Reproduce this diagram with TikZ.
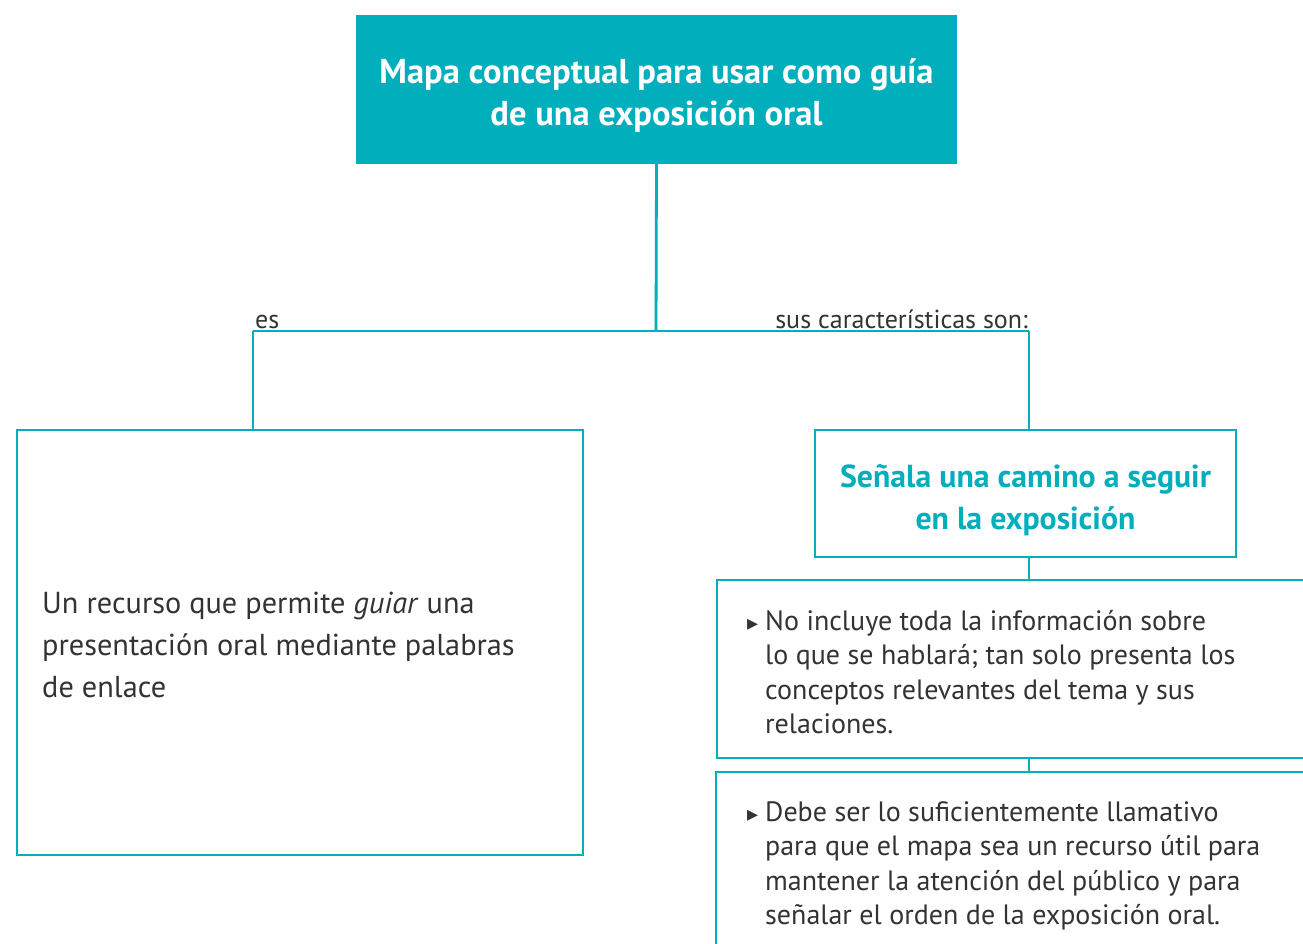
\documentclass[tikz,border=0pt]{standalone}
\usepackage{fontspec}
\setmainfont{PT Sans}
\newfontfamily\dejavu{DejaVu Sans}
\definecolor{teal1}{HTML}{00AEBC}
\definecolor{ink}{HTML}{333333}
\newcommand{\bul}{{\dejavu\fontsize{22}{22}\selectfont ▸}}
\begin{document}
\begin{tikzpicture}[x=1pt,y=-1pt,
  conn/.style={draw=teal1,line width=2.8pt},
  boxs/.style={draw=teal1,line width=2.8pt,fill=white,inner sep=0pt},
  titlebox/.style={fill=teal1,inner sep=0pt},
  titletext/.style={text=white,font=\bfseries\fontsize{34.5}{42}\selectfont,align=center,inner sep=0pt},
  subtitle/.style={text=teal1,font=\bfseries\fontsize{31.8}{42}\selectfont,align=center,inner sep=0pt},
  bodytext/.style={text=ink,font=\fontsize{30.3}{42}\selectfont,align=left,inner sep=0pt},
  itemtext/.style={text=ink,font=\fontsize{28}{34.5}\selectfont,align=left,inner sep=0pt},
  linklabel/.style={text=ink,font=\fontsize{26}{26}\selectfont,inner sep=0pt}]
\useasboundingbox (0,0) rectangle (1303,944);
\clip (0,0) rectangle (1303,944);
\fill[white] (0,0) rectangle (1303,944);
% top
\node[titlebox,minimum width=601pt,minimum height=149pt] (top) at (656.5,89.5) {};
\node[titletext] (toptext) at (656.5,95.5)
  {Mapa conceptual para usar como guía\\de una exposición oral};
% junction coordinates
\coordinate (j) at (656,331);
\coordinate (jl) at (253,331);
\coordinate (jr) at (1029,331);
% boxes
\node[boxs,minimum width=566pt,minimum height=425pt] (left) at (300,642.5) {};
\node[boxs,minimum width=421pt,minimum height=127pt] (rt) at (1025.5,493.5) {};
\node[subtitle] (rttext) at (1025.5,500) {Señala una camino a seguir\\en la exposición};
\node[boxs,minimum width=603pt,minimum height=178pt] (b2) at (1018.5,669) {};
\node[boxs,minimum width=604pt,minimum height=188pt] (b3) at (1018,866) {};
% connectors
\draw[conn] (top.south) -- (j);
\draw[conn] (jl) -- (jr);
\draw[conn] (jl) -- (jl |- left.north);
\draw[conn] (jr) -- (jr |- rt.north);
\draw[conn] (rt.south -| jr) -- (b2.north -| jr);
\draw[conn] (b2.south -| jr) -- (b3.north -| jr);
% labels
\node[linklabel,anchor=base west] (les) at (255,328) {es};
\node[linklabel,anchor=base east] (lsus) at (1028,328) {sus características son:};
% texts
\node[bodytext,anchor=west] (ltext) at (42,645)
  {Un recurso que permite \textit{guiar} una\\presentación oral mediante palabras\\de enlace};
\node[itemtext,anchor=west] (t2) at (765,672)
  {\llap{\bul\hspace{7pt}}No incluye toda la información sobre\\lo que se hablará; tan solo presenta los\\conceptos relevantes del tema y sus\\relaciones.};
\node[itemtext,anchor=west] (t3) at (765,866)
  {\llap{\bul\hspace{7pt}}Debe ser lo suficientemente llamativo\\para que el mapa sea un recurso útil para\\mantener la atención del público y para\\señalar el orden de la exposición oral.};
\end{tikzpicture}
\end{document}
